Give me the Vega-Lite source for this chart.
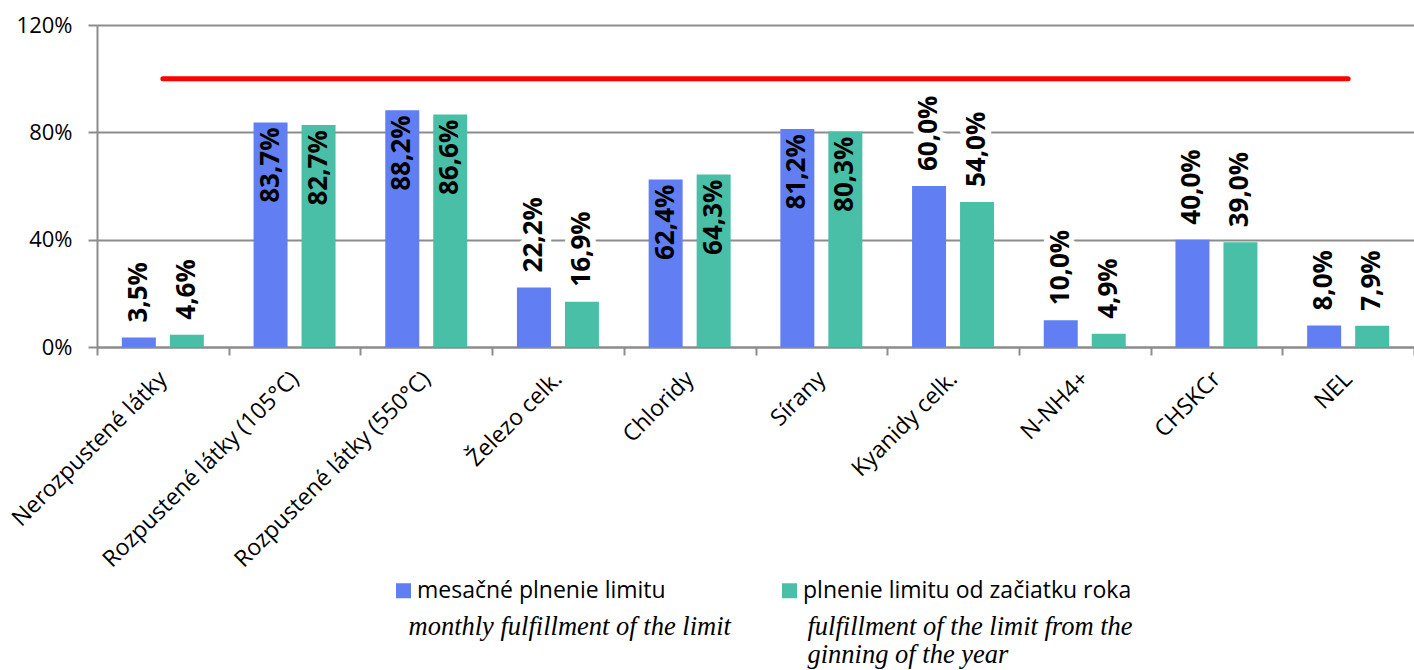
{
  "$schema": "https://vega.github.io/schema/vega-lite/v6.json",
  "width": 1317,
  "height": 322,
  "autosize": {"type": "none"},
  "padding": {"left": 97, "top": 25, "right": 0, "bottom": 323},
  "background": "white",
  "config": {
    "locale": {"number": {"decimal": ",", "thousands": " ", "grouping": [3], "currency": ["", " €"]}},
    "view": {"stroke": null},
    "font": "Open Sans"
  },
  "data": {
    "values": [
      {"cat": "Nerozpustené látky", "series": "mesačné plnenie limitu", "series_en": "monthly fulfillment of the limit", "value": 0.035},
      {"cat": "Nerozpustené látky", "series": "plnenie limitu od začiatku roka", "series_en": "fulfillment of the limit from the ginning of the year", "value": 0.046},
      {"cat": "Rozpustené látky (105°C)", "series": "mesačné plnenie limitu", "series_en": "monthly fulfillment of the limit", "value": 0.837},
      {"cat": "Rozpustené látky (105°C)", "series": "plnenie limitu od začiatku roka", "series_en": "fulfillment of the limit from the ginning of the year", "value": 0.827},
      {"cat": "Rozpustené látky (550°C)", "series": "mesačné plnenie limitu", "series_en": "monthly fulfillment of the limit", "value": 0.882},
      {"cat": "Rozpustené látky (550°C)", "series": "plnenie limitu od začiatku roka", "series_en": "fulfillment of the limit from the ginning of the year", "value": 0.866},
      {"cat": "Železo celk.", "series": "mesačné plnenie limitu", "series_en": "monthly fulfillment of the limit", "value": 0.222},
      {"cat": "Železo celk.", "series": "plnenie limitu od začiatku roka", "series_en": "fulfillment of the limit from the ginning of the year", "value": 0.169},
      {"cat": "Chloridy", "series": "mesačné plnenie limitu", "series_en": "monthly fulfillment of the limit", "value": 0.624},
      {"cat": "Chloridy", "series": "plnenie limitu od začiatku roka", "series_en": "fulfillment of the limit from the ginning of the year", "value": 0.643},
      {"cat": "Sírany", "series": "mesačné plnenie limitu", "series_en": "monthly fulfillment of the limit", "value": 0.812},
      {"cat": "Sírany", "series": "plnenie limitu od začiatku roka", "series_en": "fulfillment of the limit from the ginning of the year", "value": 0.803},
      {"cat": "Kyanidy celk.", "series": "mesačné plnenie limitu", "series_en": "monthly fulfillment of the limit", "value": 0.600},
      {"cat": "Kyanidy celk.", "series": "plnenie limitu od začiatku roka", "series_en": "fulfillment of the limit from the ginning of the year", "value": 0.540},
      {"cat": "N-NH4+", "series": "mesačné plnenie limitu", "series_en": "monthly fulfillment of the limit", "value": 0.100},
      {"cat": "N-NH4+", "series": "plnenie limitu od začiatku roka", "series_en": "fulfillment of the limit from the ginning of the year", "value": 0.049},
      {"cat": "CHSKCr", "series": "mesačné plnenie limitu", "series_en": "monthly fulfillment of the limit", "value": 0.400},
      {"cat": "CHSKCr", "series": "plnenie limitu od začiatku roka", "series_en": "fulfillment of the limit from the ginning of the year", "value": 0.390},
      {"cat": "NEL", "series": "mesačné plnenie limitu", "series_en": "monthly fulfillment of the limit", "value": 0.080},
      {"cat": "NEL", "series": "plnenie limitu od začiatku roka", "series_en": "fulfillment of the limit from the ginning of the year", "value": 0.079}
    ]
  },
  "encoding": {
    "x": {
      "field": "cat", "type": "nominal", "sort": null,
      "scale": {"paddingInner": 0, "paddingOuter": 0},
      "axis": {
        "title": null, "labelAngle": -45, "labelAlign": "right", "labelBaseline": "middle",
        "labelFont": "Open Sans", "labelFontSize": 23, "labelColor": "#000000", "labelPadding": 20, "labelLimit": 400,
        "tickBand": "extent", "tickSize": 8, "tickColor": "#8c8c8c", "tickWidth": 2,
        "domainColor": "#8c8c8c", "domainWidth": 2, "grid": false
      }
    },
    "y": {
      "field": "value", "type": "quantitative",
      "scale": {"domain": [0, 1.2], "nice": false, "zero": true},
      "axis": {
        "title": null, "values": [0, 0.4, 0.8, 1.2], "format": ".0%",
        "labelFont": "Open Sans", "labelFontSize": 22, "labelColor": "#000000", "labelPadding": 16,
        "tickSize": 9, "tickColor": "#8c8c8c", "tickWidth": 2,
        "domainColor": "#8c8c8c", "domainWidth": 2,
        "grid": true, "gridColor": "#8c8c8c", "gridWidth": 2, "gridOpacity": 1
      }
    }
  },
  "layer": [
    {
      "mark": {"type": "bar"},
      "encoding": {
        "xOffset": {"field": "series", "type": "nominal", "scale": {"domain": ["mesačné plnenie limitu", "plnenie limitu od začiatku roka"], "paddingInner": 0.2917, "paddingOuter": 0.518}},
        "color": {
          "field": "series", "type": "nominal",
          "scale": {"domain": ["mesačné plnenie limitu", "plnenie limitu od začiatku roka"], "range": ["#617FF3", "#48BFA6"]},
          "legend": {
            "title": null, "orient": "none", "legendX": 295, "legendY": 554, "direction": "horizontal", "columns": 2,
            "columnPadding": 112, "symbolType": "square", "symbolSize": 225, "symbolStrokeWidth": 0,
            "labelFont": "Open Sans", "labelFontSize": 23, "labelColor": "#000000", "labelOffset": 2, "padding": 0, "labelLimit": 600
          }
        },
        "strokeDash": {
          "field": "series_en", "type": "nominal",
          "scale": {"domain": ["monthly fulfillment of the limit", "fulfillment of the limit from the ginning of the year"]},
          "legend": {
            "title": null, "orient": "none", "legendX": 285, "legendY": 596, "direction": "horizontal", "columns": 2,
            "columnPadding": 50, "symbolSize": 0, "symbolOpacity": 0, "symbolStrokeWidth": 0, "labelOffset": 0,
            "labelFont": "Liberation Serif", "labelFontStyle": "italic", "labelFontSize": 26.5, "labelColor": "#000000",
            "labelBaseline": "alphabetic", "padding": 0, "labelLimit": 600,
            "labelExpr": "datum.label == 'fulfillment of the limit from the ginning of the year' ? ['fulfillment of the limit from the', 'ginning of the year'] : [datum.label, ' ']",
            "encoding": {"labels": {"update": {"lineHeight": {"value": 29}}}}
          }
        }
      }
    },
    {
      "mark": {"type": "line", "color": "#FF0000", "strokeWidth": 5, "strokeCap": "round"},
      "transform": [{"filter": "datum.series == 'mesačné plnenie limitu'"}],
      "encoding": {"y": {"datum": 1}}
    },
    {
      "mark": {"type": "text", "angle": 270, "align": "left", "baseline": "middle", "dx": 15, "font": "Open Sans", "fontSize": 26, "fontWeight": "bold", "color": "white", "stroke": "white", "strokeWidth": 12},
      "transform": [{"filter": "datum.value <= 0.61"}],
      "encoding": {
        "xOffset": {"field": "series", "type": "nominal"},
        "text": {"field": "value", "type": "quantitative", "format": ".1%"}
      }
    },
    {
      "mark": {"type": "text", "angle": 270, "align": "left", "baseline": "middle", "dx": 15, "font": "Open Sans", "fontSize": 26, "fontWeight": "bold", "color": "#000000"},
      "transform": [{"filter": "datum.value <= 0.61"}],
      "encoding": {
        "xOffset": {"field": "series", "type": "nominal"},
        "text": {"field": "value", "type": "quantitative", "format": ".1%"}
      }
    },
    {
      "mark": {"type": "text", "angle": 270, "align": "right", "baseline": "middle", "dx": -5, "font": "Open Sans", "fontSize": 26, "fontWeight": "bold", "color": "#000000"},
      "transform": [{"filter": "datum.value > 0.61"}],
      "encoding": {
        "xOffset": {"field": "series", "type": "nominal"},
        "text": {"field": "value", "type": "quantitative", "format": ".1%"}
      }
    }
  ]
}
